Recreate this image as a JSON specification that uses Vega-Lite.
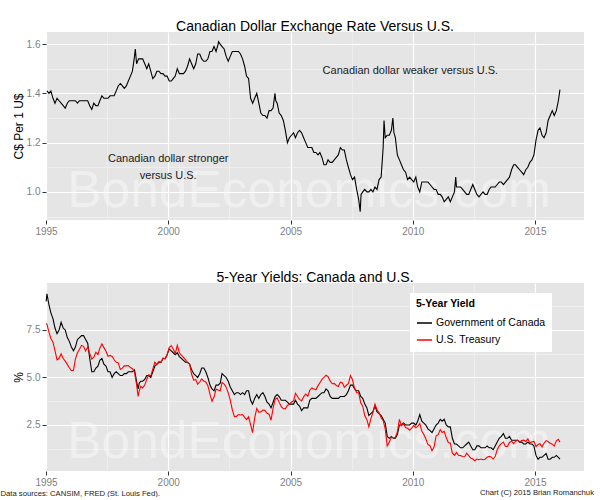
{
"$schema": "https://vega.github.io/schema/vega-lite/v6.json",
"background": "white",
"padding": {"left": 0, "top": 20, "right": 0, "bottom": 0},
"spacing": 35,
"resolve": {"legend": {"color": "independent"}},
"config": {
  "font": "Liberation Sans",
  "view": {"fill": "#E5E5E5", "stroke": null},
  "title": {"fontSize": 14, "fontWeight": "normal", "color": "#000000", "baseline": "alphabetic", "offset": -2},
  "axis": {"domain": false, "labelColor": "#7F7F7F", "labelFontSize": 10, "tickSize": 4, "titleFontSize": 12, "titleFontWeight": "normal", "titleColor": "#000000", "labelPadding": 2, "titlePadding": 1, "labelFlush": false, "labelOverlap": false}
},
"datasets": {
  "wm": [
    {"d": "2005-10-05", "v": 0.939, "label": "BondEconomics.com", "p": 1},
    {"d": "2005-10-05", "v": 0.76, "label": "BondEconomics.com", "p": 2}
  ],
  "notes": [
    {"d": "2009-11-25", "v": 1.49, "label": "Canadian dollar weaker versus U.S."},
    {"d": "2000-01-01", "v": 1.132, "label": "Canadian dollar stronger"},
    {"d": "2000-01-01", "v": 1.063, "label": "versus U.S."}
  ],
  "fx": [
    {"d":"1995-01-15","v":1.41},{"d":"1995-02-15","v":1.40},{"d":"1995-03-15","v":1.41},{"d":"1995-04-15","v":1.38},{"d":"1995-05-15","v":1.36},{"d":"1995-06-15","v":1.38},{"d":"1995-07-15","v":1.37},{"d":"1995-08-15","v":1.36},{"d":"1995-09-15","v":1.35},{"d":"1995-10-15","v":1.34},{"d":"1995-11-15","v":1.36},{"d":"1995-12-15","v":1.37},
    {"d":"1996-01-15","v":1.37},{"d":"1996-02-15","v":1.37},{"d":"1996-03-15","v":1.37},{"d":"1996-04-15","v":1.36},{"d":"1996-05-15","v":1.37},{"d":"1996-06-15","v":1.37},{"d":"1996-07-15","v":1.37},{"d":"1996-08-15","v":1.37},{"d":"1996-09-15","v":1.37},{"d":"1996-10-15","v":1.35},{"d":"1996-11-15","v":1.335},{"d":"1996-12-15","v":1.36},
    {"d":"1997-01-15","v":1.35},{"d":"1997-02-15","v":1.35},{"d":"1997-03-15","v":1.37},{"d":"1997-04-15","v":1.39},{"d":"1997-05-15","v":1.38},{"d":"1997-06-15","v":1.38},{"d":"1997-07-15","v":1.38},{"d":"1997-08-15","v":1.39},{"d":"1997-09-15","v":1.39},{"d":"1997-10-15","v":1.39},{"d":"1997-11-15","v":1.41},{"d":"1997-12-15","v":1.43},
    {"d":"1998-01-15","v":1.44},{"d":"1998-02-15","v":1.43},{"d":"1998-03-15","v":1.42},{"d":"1998-04-15","v":1.43},{"d":"1998-05-15","v":1.45},{"d":"1998-06-15","v":1.47},{"d":"1998-07-15","v":1.49},{"d":"1998-08-15","v":1.55},{"d":"1998-08-27","v":1.58},{"d":"1998-09-15","v":1.52},{"d":"1998-10-15","v":1.54},{"d":"1998-11-15","v":1.54},{"d":"1998-12-15","v":1.54},
    {"d":"1999-01-15","v":1.52},{"d":"1999-02-15","v":1.50},{"d":"1999-03-15","v":1.52},{"d":"1999-04-15","v":1.49},{"d":"1999-05-15","v":1.46},{"d":"1999-06-15","v":1.47},{"d":"1999-07-15","v":1.49},{"d":"1999-08-15","v":1.49},{"d":"1999-09-15","v":1.48},{"d":"1999-10-15","v":1.48},{"d":"1999-11-15","v":1.47},{"d":"1999-12-15","v":1.47},
    {"d":"2000-01-15","v":1.45},{"d":"2000-02-15","v":1.45},{"d":"2000-03-15","v":1.46},{"d":"2000-04-15","v":1.47},{"d":"2000-05-15","v":1.50},{"d":"2000-06-15","v":1.48},{"d":"2000-07-15","v":1.48},{"d":"2000-08-15","v":1.48},{"d":"2000-09-15","v":1.49},{"d":"2000-10-15","v":1.51},{"d":"2000-11-15","v":1.54},{"d":"2000-12-15","v":1.52},
    {"d":"2001-01-15","v":1.50},{"d":"2001-02-15","v":1.52},{"d":"2001-03-15","v":1.56},{"d":"2001-04-15","v":1.56},{"d":"2001-05-15","v":1.54},{"d":"2001-06-15","v":1.53},{"d":"2001-07-15","v":1.53},{"d":"2001-08-15","v":1.54},{"d":"2001-09-15","v":1.57},{"d":"2001-10-15","v":1.57},{"d":"2001-11-15","v":1.59},{"d":"2001-12-15","v":1.57},
    {"d":"2002-01-15","v":1.60},{"d":"2002-01-21","v":1.61},{"d":"2002-02-15","v":1.60},{"d":"2002-03-15","v":1.59},{"d":"2002-04-15","v":1.58},{"d":"2002-05-15","v":1.55},{"d":"2002-06-15","v":1.53},{"d":"2002-07-15","v":1.55},{"d":"2002-08-15","v":1.57},{"d":"2002-09-15","v":1.57},{"d":"2002-10-15","v":1.57},{"d":"2002-11-15","v":1.57},{"d":"2002-12-15","v":1.56},
    {"d":"2003-01-15","v":1.54},{"d":"2003-02-15","v":1.51},{"d":"2003-03-15","v":1.47},{"d":"2003-04-15","v":1.46},{"d":"2003-05-15","v":1.38},{"d":"2003-06-15","v":1.36},{"d":"2003-07-15","v":1.38},{"d":"2003-08-15","v":1.40},{"d":"2003-09-15","v":1.36},{"d":"2003-10-15","v":1.32},{"d":"2003-11-15","v":1.31},{"d":"2003-12-15","v":1.31},
    {"d":"2004-01-15","v":1.30},{"d":"2004-02-15","v":1.33},{"d":"2004-03-15","v":1.33},{"d":"2004-04-15","v":1.34},{"d":"2004-05-13","v":1.40},{"d":"2004-05-25","v":1.37},{"d":"2004-06-15","v":1.36},{"d":"2004-07-15","v":1.32},{"d":"2004-08-15","v":1.31},{"d":"2004-09-15","v":1.29},{"d":"2004-10-15","v":1.25},{"d":"2004-11-15","v":1.20},{"d":"2004-12-15","v":1.22},
    {"d":"2005-01-15","v":1.23},{"d":"2005-02-15","v":1.24},{"d":"2005-03-15","v":1.22},{"d":"2005-04-15","v":1.24},{"d":"2005-05-15","v":1.25},{"d":"2005-06-15","v":1.24},{"d":"2005-07-15","v":1.22},{"d":"2005-08-15","v":1.20},{"d":"2005-09-15","v":1.18},{"d":"2005-10-15","v":1.18},{"d":"2005-11-15","v":1.18},{"d":"2005-12-15","v":1.16},
    {"d":"2006-01-15","v":1.16},{"d":"2006-02-15","v":1.15},{"d":"2006-03-15","v":1.16},{"d":"2006-04-15","v":1.14},{"d":"2006-05-15","v":1.11},{"d":"2006-06-15","v":1.11},{"d":"2006-07-15","v":1.13},{"d":"2006-08-15","v":1.12},{"d":"2006-09-15","v":1.12},{"d":"2006-10-15","v":1.13},{"d":"2006-11-15","v":1.14},{"d":"2006-12-15","v":1.15},
    {"d":"2007-01-15","v":1.18},{"d":"2007-02-15","v":1.17},{"d":"2007-03-15","v":1.17},{"d":"2007-04-15","v":1.13},{"d":"2007-05-15","v":1.10},{"d":"2007-06-15","v":1.07},{"d":"2007-07-15","v":1.05},{"d":"2007-08-15","v":1.06},{"d":"2007-09-15","v":1.01},{"d":"2007-10-15","v":0.97},{"d":"2007-11-07","v":0.92},{"d":"2007-11-20","v":0.99},{"d":"2007-12-15","v":1.00},
    {"d":"2008-01-15","v":1.01},{"d":"2008-02-15","v":1.00},{"d":"2008-03-15","v":1.00},{"d":"2008-04-15","v":1.01},{"d":"2008-05-15","v":1.00},{"d":"2008-06-15","v":1.02},{"d":"2008-07-15","v":1.01},{"d":"2008-08-15","v":1.05},{"d":"2008-09-15","v":1.06},{"d":"2008-10-15","v":1.18},{"d":"2008-10-28","v":1.29},{"d":"2008-11-15","v":1.22},{"d":"2008-12-15","v":1.23},
    {"d":"2009-01-15","v":1.23},{"d":"2009-02-15","v":1.25},{"d":"2009-03-09","v":1.30},{"d":"2009-03-25","v":1.24},{"d":"2009-04-15","v":1.22},{"d":"2009-05-15","v":1.15},{"d":"2009-06-15","v":1.13},{"d":"2009-07-15","v":1.11},{"d":"2009-08-15","v":1.09},{"d":"2009-09-15","v":1.08},{"d":"2009-10-15","v":1.05},{"d":"2009-11-15","v":1.06},{"d":"2009-12-15","v":1.05},
    {"d":"2010-01-15","v":1.04},{"d":"2010-02-15","v":1.06},{"d":"2010-03-15","v":1.02},{"d":"2010-04-15","v":1.00},{"d":"2010-05-15","v":1.04},{"d":"2010-06-15","v":1.04},{"d":"2010-07-15","v":1.04},{"d":"2010-08-15","v":1.04},{"d":"2010-09-15","v":1.03},{"d":"2010-10-15","v":1.02},{"d":"2010-11-15","v":1.01},{"d":"2010-12-15","v":1.01},
    {"d":"2011-01-15","v":0.99},{"d":"2011-02-15","v":0.99},{"d":"2011-03-15","v":0.98},{"d":"2011-04-15","v":0.96},{"d":"2011-05-15","v":0.97},{"d":"2011-06-15","v":0.98},{"d":"2011-07-15","v":0.96},{"d":"2011-08-15","v":0.98},{"d":"2011-09-15","v":1.00},{"d":"2011-10-04","v":1.06},{"d":"2011-10-15","v":1.02},{"d":"2011-11-15","v":1.02},{"d":"2011-12-15","v":1.02},
    {"d":"2012-01-15","v":1.01},{"d":"2012-02-15","v":1.00},{"d":"2012-03-15","v":0.99},{"d":"2012-04-15","v":0.99},{"d":"2012-05-15","v":1.01},{"d":"2012-06-15","v":1.03},{"d":"2012-07-15","v":1.01},{"d":"2012-08-15","v":0.99},{"d":"2012-09-15","v":0.98},{"d":"2012-10-15","v":0.99},{"d":"2012-11-15","v":1.00},{"d":"2012-12-15","v":0.99},
    {"d":"2013-01-15","v":0.99},{"d":"2013-02-15","v":1.01},{"d":"2013-03-15","v":1.02},{"d":"2013-04-15","v":1.02},{"d":"2013-05-15","v":1.02},{"d":"2013-06-15","v":1.03},{"d":"2013-07-15","v":1.04},{"d":"2013-08-15","v":1.04},{"d":"2013-09-15","v":1.03},{"d":"2013-10-15","v":1.04},{"d":"2013-11-15","v":1.05},{"d":"2013-12-15","v":1.06},
    {"d":"2014-01-15","v":1.09},{"d":"2014-02-15","v":1.11},{"d":"2014-03-15","v":1.11},{"d":"2014-04-15","v":1.10},{"d":"2014-05-15","v":1.09},{"d":"2014-06-15","v":1.08},{"d":"2014-07-15","v":1.07},{"d":"2014-08-15","v":1.09},{"d":"2014-09-15","v":1.10},{"d":"2014-10-15","v":1.12},{"d":"2014-11-15","v":1.13},{"d":"2014-12-15","v":1.15},
    {"d":"2015-01-15","v":1.21},{"d":"2015-02-15","v":1.25},{"d":"2015-03-15","v":1.26},{"d":"2015-04-15","v":1.23},{"d":"2015-05-15","v":1.22},{"d":"2015-06-15","v":1.24},{"d":"2015-07-15","v":1.29},{"d":"2015-08-15","v":1.31},{"d":"2015-09-15","v":1.33},{"d":"2015-10-15","v":1.31},{"d":"2015-11-15","v":1.33},{"d":"2015-12-15","v":1.37},{"d":"2016-01-08","v":1.415}
  ],
  "yields": [
    {"d":"1995-01-03","can":9.0,"us":7.85},{"d":"1995-01-15","can":9.4,"us":7.8},{"d":"1995-02-15","can":8.8,"us":7.37},{"d":"1995-03-15","can":8.4,"us":7.05},{"d":"1995-04-15","can":8.1,"us":6.86},{"d":"1995-05-15","can":7.6,"us":6.41},{"d":"1995-06-15","can":7.3,"us":5.93},{"d":"1995-07-15","can":7.5,"us":6.01},{"d":"1995-08-15","can":7.9,"us":6.24},{"d":"1995-09-15","can":7.6,"us":6.00},{"d":"1995-10-15","can":7.5,"us":5.86},{"d":"1995-11-15","can":7.1,"us":5.69},{"d":"1995-12-15","can":6.9,"us":5.51},
    {"d":"1996-01-15","can":6.6,"us":5.36},{"d":"1996-02-15","can":6.4,"us":5.38},{"d":"1996-03-15","can":6.6,"us":5.97},{"d":"1996-04-15","can":7.0,"us":6.30},{"d":"1996-05-15","can":7.1,"us":6.48},{"d":"1996-06-15","can":7.2,"us":6.69},{"d":"1996-07-15","can":7.2,"us":6.64},{"d":"1996-08-15","can":7.0,"us":6.39},{"d":"1996-09-15","can":6.8,"us":6.60},{"d":"1996-10-15","can":6.0,"us":6.27},{"d":"1996-11-15","can":5.3,"us":5.97},{"d":"1996-12-15","can":5.3,"us":6.07},
    {"d":"1997-01-15","can":5.5,"us":6.33},{"d":"1997-02-15","can":5.6,"us":6.20},{"d":"1997-03-15","can":5.9,"us":6.54},{"d":"1997-04-15","can":6.0,"us":6.76},{"d":"1997-05-15","can":5.7,"us":6.57},{"d":"1997-06-15","can":5.6,"us":6.38},{"d":"1997-07-15","can":5.3,"us":6.12},{"d":"1997-08-15","can":5.3,"us":6.16},{"d":"1997-09-15","can":5.0,"us":6.11},{"d":"1997-10-15","can":5.2,"us":5.93},{"d":"1997-11-15","can":5.3,"us":5.80},{"d":"1997-12-15","can":5.2,"us":5.77},
    {"d":"1998-01-15","can":5.1,"us":5.42},{"d":"1998-02-15","can":5.1,"us":5.49},{"d":"1998-03-15","can":5.2,"us":5.61},{"d":"1998-04-15","can":5.2,"us":5.61},{"d":"1998-05-15","can":5.3,"us":5.63},{"d":"1998-06-15","can":5.3,"us":5.52},{"d":"1998-07-15","can":5.3,"us":5.46},{"d":"1998-08-15","can":5.4,"us":5.27},{"d":"1998-09-15","can":4.8,"us":4.62},{"d":"1998-10-08","can":4.4,"us":4.0},{"d":"1998-10-25","can":4.7,"us":4.3},{"d":"1998-11-15","can":4.8,"us":4.54},{"d":"1998-12-15","can":4.8,"us":4.45},
    {"d":"1999-01-15","can":4.9,"us":4.60},{"d":"1999-02-15","can":5.1,"us":4.91},{"d":"1999-03-15","can":5.1,"us":5.14},{"d":"1999-04-15","can":5.0,"us":5.08},{"d":"1999-05-15","can":5.3,"us":5.44},{"d":"1999-06-15","can":5.6,"us":5.81},{"d":"1999-07-15","can":5.7,"us":5.68},{"d":"1999-08-15","can":5.8,"us":5.84},{"d":"1999-09-15","can":5.8,"us":5.80},{"d":"1999-10-15","can":6.0,"us":6.03},{"d":"1999-11-15","can":6.0,"us":5.97},{"d":"1999-12-15","can":6.2,"us":6.19},
    {"d":"2000-01-15","can":6.5,"us":6.58},{"d":"2000-02-15","can":6.4,"us":6.68},{"d":"2000-03-15","can":6.3,"us":6.50},{"d":"2000-04-15","can":6.2,"us":6.26},{"d":"2000-05-15","can":6.3,"us":6.69},{"d":"2000-06-15","can":6.1,"us":6.30},{"d":"2000-07-15","can":6.0,"us":6.18},{"d":"2000-08-15","can":5.9,"us":6.06},{"d":"2000-09-15","can":5.8,"us":5.93},{"d":"2000-10-15","can":5.8,"us":5.78},{"d":"2000-11-15","can":5.7,"us":5.70},{"d":"2000-12-15","can":5.4,"us":5.17},
    {"d":"2001-01-15","can":5.2,"us":4.86},{"d":"2001-02-15","can":5.1,"us":4.89},{"d":"2001-03-15","can":5.0,"us":4.64},{"d":"2001-04-15","can":5.2,"us":4.76},{"d":"2001-05-15","can":5.5,"us":4.93},{"d":"2001-06-15","can":5.5,"us":4.81},{"d":"2001-07-15","can":5.3,"us":4.76},{"d":"2001-08-15","can":5.0,"us":4.57},{"d":"2001-09-15","can":4.6,"us":4.12},{"d":"2001-10-15","can":4.4,"us":3.75},{"d":"2001-11-15","can":4.3,"us":3.97},{"d":"2001-12-15","can":4.6,"us":4.39},
    {"d":"2002-01-15","can":4.6,"us":4.34},{"d":"2002-02-15","can":4.7,"us":4.30},{"d":"2002-03-15","can":5.2,"us":4.74},{"d":"2002-04-15","can":5.1,"us":4.65},{"d":"2002-05-15","can":5.0,"us":4.49},{"d":"2002-06-15","can":4.8,"us":4.19},{"d":"2002-07-15","can":4.5,"us":3.81},{"d":"2002-08-15","can":4.3,"us":3.29},{"d":"2002-09-15","can":4.1,"us":2.94},{"d":"2002-10-15","can":4.2,"us":2.95},{"d":"2002-11-15","can":4.2,"us":3.05},{"d":"2002-12-15","can":4.1,"us":3.03},
    {"d":"2003-01-15","can":4.2,"us":3.05},{"d":"2003-02-15","can":4.1,"us":2.90},{"d":"2003-03-15","can":4.3,"us":2.78},{"d":"2003-04-15","can":4.3,"us":2.93},{"d":"2003-05-15","can":3.8,"us":2.52},{"d":"2003-06-13","can":3.6,"us":2.1},{"d":"2003-07-15","can":3.9,"us":2.87},{"d":"2003-08-15","can":4.1,"us":3.37},{"d":"2003-09-15","can":3.9,"us":3.18},{"d":"2003-10-15","can":4.1,"us":3.19},{"d":"2003-11-15","can":4.2,"us":3.29},{"d":"2003-12-15","can":4.0,"us":3.27},
    {"d":"2004-01-15","can":3.7,"us":3.12},{"d":"2004-02-15","can":3.6,"us":3.07},{"d":"2004-03-15","can":3.4,"us":2.75},{"d":"2004-04-15","can":3.7,"us":3.39},{"d":"2004-05-15","can":4.0,"us":3.85},{"d":"2004-06-15","can":4.1,"us":3.93},{"d":"2004-07-15","can":4.0,"us":3.69},{"d":"2004-08-15","can":3.8,"us":3.47},{"d":"2004-09-15","can":3.8,"us":3.36},{"d":"2004-10-15","can":3.8,"us":3.35},{"d":"2004-11-15","can":3.7,"us":3.53},{"d":"2004-12-15","can":3.6,"us":3.60},
    {"d":"2005-01-15","can":3.6,"us":3.71},{"d":"2005-02-15","can":3.6,"us":3.77},{"d":"2005-03-15","can":3.8,"us":4.17},{"d":"2005-04-15","can":3.6,"us":4.00},{"d":"2005-05-15","can":3.5,"us":3.85},{"d":"2005-06-15","can":3.25,"us":3.77},{"d":"2005-07-15","can":3.4,"us":3.98},{"d":"2005-08-15","can":3.4,"us":4.12},{"d":"2005-09-15","can":3.4,"us":4.01},{"d":"2005-10-15","can":3.8,"us":4.33},{"d":"2005-11-15","can":3.9,"us":4.45},{"d":"2005-12-15","can":3.9,"us":4.39},
    {"d":"2006-01-15","can":3.9,"us":4.35},{"d":"2006-02-15","can":4.0,"us":4.57},{"d":"2006-03-15","can":4.1,"us":4.72},{"d":"2006-04-15","can":4.2,"us":4.90},{"d":"2006-05-15","can":4.2,"us":5.00},{"d":"2006-06-15","can":4.4,"us":5.12},{"d":"2006-07-15","can":4.3,"us":5.04},{"d":"2006-08-15","can":4.0,"us":4.82},{"d":"2006-09-15","can":3.9,"us":4.67},{"d":"2006-10-15","can":3.9,"us":4.69},{"d":"2006-11-15","can":3.9,"us":4.58},{"d":"2006-12-15","can":3.9,"us":4.53},
    {"d":"2007-01-15","can":4.0,"us":4.75},{"d":"2007-02-15","can":4.0,"us":4.71},{"d":"2007-03-15","can":4.0,"us":4.48},{"d":"2007-04-15","can":4.1,"us":4.59},{"d":"2007-05-15","can":4.3,"us":4.67},{"d":"2007-06-15","can":4.6,"us":5.1},{"d":"2007-07-15","can":4.6,"us":4.88},{"d":"2007-08-15","can":4.4,"us":4.43},{"d":"2007-09-15","can":4.3,"us":4.20},{"d":"2007-10-15","can":4.3,"us":4.20},{"d":"2007-11-15","can":4.0,"us":3.67},{"d":"2007-12-15","can":3.9,"us":3.49},
    {"d":"2008-01-15","can":3.6,"us":2.98},{"d":"2008-02-15","can":3.4,"us":2.78},{"d":"2008-03-15","can":3.0,"us":2.4},{"d":"2008-04-15","can":3.1,"us":2.84},{"d":"2008-05-15","can":3.2,"us":3.15},{"d":"2008-06-15","can":3.5,"us":3.6},{"d":"2008-07-15","can":3.2,"us":3.30},{"d":"2008-08-15","can":3.1,"us":3.14},{"d":"2008-09-15","can":3.0,"us":2.88},{"d":"2008-10-15","can":2.8,"us":2.73},{"d":"2008-11-15","can":2.6,"us":2.29},{"d":"2008-12-15","can":1.9,"us":1.4},
    {"d":"2009-01-15","can":1.8,"us":1.60},{"d":"2009-02-15","can":1.9,"us":1.87},{"d":"2009-03-15","can":1.8,"us":1.82},{"d":"2009-04-15","can":1.8,"us":1.86},{"d":"2009-05-15","can":2.0,"us":2.13},{"d":"2009-06-15","can":2.5,"us":2.8},{"d":"2009-07-15","can":2.5,"us":2.46},{"d":"2009-08-15","can":2.6,"us":2.57},{"d":"2009-09-15","can":2.5,"us":2.37},{"d":"2009-10-15","can":2.5,"us":2.33},{"d":"2009-11-15","can":2.5,"us":2.23},{"d":"2009-12-15","can":2.6,"us":2.34},
    {"d":"2010-01-15","can":2.6,"us":2.48},{"d":"2010-02-15","can":2.5,"us":2.36},{"d":"2010-03-15","can":2.7,"us":2.43},{"d":"2010-04-15","can":3.05,"us":2.58},{"d":"2010-05-15","can":2.7,"us":2.18},{"d":"2010-06-15","can":2.6,"us":2.00},{"d":"2010-07-15","can":2.5,"us":1.76},{"d":"2010-08-15","can":2.3,"us":1.47},{"d":"2010-09-15","can":2.2,"us":1.41},{"d":"2010-10-15","can":2.1,"us":1.15},{"d":"2010-11-15","can":2.3,"us":1.35},{"d":"2010-12-15","can":2.5,"us":1.93},
    {"d":"2011-01-15","can":2.6,"us":1.99},{"d":"2011-02-15","can":2.8,"us":2.26},{"d":"2011-03-15","can":2.7,"us":2.11},{"d":"2011-04-15","can":2.8,"us":2.17},{"d":"2011-05-15","can":2.5,"us":1.84},{"d":"2011-06-15","can":2.4,"us":1.58},{"d":"2011-07-15","can":2.4,"us":1.54},{"d":"2011-08-15","can":1.8,"us":1.02},{"d":"2011-09-15","can":1.5,"us":0.90},{"d":"2011-10-15","can":1.5,"us":1.06},{"d":"2011-11-15","can":1.4,"us":0.91},{"d":"2011-12-15","can":1.3,"us":0.89},
    {"d":"2012-01-15","can":1.3,"us":0.84},{"d":"2012-02-15","can":1.4,"us":0.83},{"d":"2012-03-15","can":1.5,"us":1.02},{"d":"2012-04-15","can":1.6,"us":0.89},{"d":"2012-05-15","can":1.4,"us":0.76},{"d":"2012-06-15","can":1.2,"us":0.71},{"d":"2012-07-15","can":1.2,"us":0.62},{"d":"2012-08-15","can":1.4,"us":0.71},{"d":"2012-09-15","can":1.4,"us":0.67},{"d":"2012-10-15","can":1.3,"us":0.71},{"d":"2012-11-15","can":1.3,"us":0.67},{"d":"2012-12-15","can":1.3,"us":0.70},
    {"d":"2013-01-15","can":1.4,"us":0.81},{"d":"2013-02-15","can":1.3,"us":0.85},{"d":"2013-03-15","can":1.3,"us":0.82},{"d":"2013-04-15","can":1.2,"us":0.71},{"d":"2013-05-15","can":1.4,"us":0.84},{"d":"2013-06-15","can":1.6,"us":1.20},{"d":"2013-07-15","can":1.8,"us":1.40},{"d":"2013-08-15","can":1.9,"us":1.52},{"d":"2013-09-15","can":2.05,"us":1.60},{"d":"2013-10-15","can":1.8,"us":1.37},{"d":"2013-11-15","can":1.8,"us":1.37},{"d":"2013-12-15","can":1.9,"us":1.58},
    {"d":"2014-01-15","can":1.7,"us":1.65},{"d":"2014-02-15","can":1.7,"us":1.52},{"d":"2014-03-15","can":1.7,"us":1.64},{"d":"2014-04-15","can":1.7,"us":1.70},{"d":"2014-05-15","can":1.6,"us":1.59},{"d":"2014-06-15","can":1.6,"us":1.68},{"d":"2014-07-15","can":1.5,"us":1.70},{"d":"2014-08-15","can":1.5,"us":1.63},{"d":"2014-09-15","can":1.6,"us":1.77},{"d":"2014-10-15","can":1.5,"us":1.55},{"d":"2014-11-15","can":1.5,"us":1.62},{"d":"2014-12-15","can":1.4,"us":1.64},
    {"d":"2015-01-15","can":0.9,"us":1.37},{"d":"2015-02-15","can":0.7,"us":1.47},{"d":"2015-03-15","can":0.8,"us":1.52},{"d":"2015-04-15","can":0.8,"us":1.35},{"d":"2015-05-15","can":0.9,"us":1.54},{"d":"2015-06-15","can":1.0,"us":1.68},{"d":"2015-07-15","can":0.7,"us":1.63},{"d":"2015-08-15","can":0.7,"us":1.54},{"d":"2015-09-15","can":0.8,"us":1.49},{"d":"2015-10-15","can":0.8,"us":1.39},{"d":"2015-11-15","can":0.9,"us":1.67},{"d":"2015-12-15","can":0.8,"us":1.75},{"d":"2016-01-08","can":0.7,"us":1.6}
  ]
},
"vconcat": [
  {
    "width": 538, "height": 188,
    "title": {"text": "Canadian Dollar Exchange Rate Versus U.S.", "offset": -2},
    "encoding": {
      "x": {"field": "d", "type": "temporal",
        "scale": {"type": "utc", "domain": [{"year": 1995, "month": 1, "date": 1, "utc": true}, {"year": 2017, "month": 1, "date": 1, "utc": true}]},
        "axis": {"title": null,
          "values": [{"year": 1995, "month": 1, "date": 1, "utc": true}, {"year": 1997, "month": 7, "date": 2, "utc": true}, {"year": 2000, "month": 1, "date": 1, "utc": true}, {"year": 2002, "month": 7, "date": 2, "utc": true}, {"year": 2005, "month": 1, "date": 1, "utc": true}, {"year": 2007, "month": 7, "date": 2, "utc": true}, {"year": 2010, "month": 1, "date": 1, "utc": true}, {"year": 2012, "month": 7, "date": 2, "utc": true}, {"year": 2015, "month": 1, "date": 1, "utc": true}],
          "labelExpr": "utcmonth(datum.value) == 0 ? utcFormat(datum.value, '%Y') : ''",
          "gridColor": {"condition": {"test": "utcmonth(datum.value) == 0", "value": "#FFFFFF"}, "value": "#F2F2F2"},
          "gridWidth": {"condition": {"test": "utcmonth(datum.value) == 0", "value": 1.2}, "value": 0.7},
          "tickColor": {"condition": {"test": "utcmonth(datum.value) == 0", "value": "#333333"}, "value": "rgba(0,0,0,0)"}
        }
      },
      "y": {"field": "v", "type": "quantitative",
        "scale": {"domain": [0.886, 1.649], "nice": false, "zero": false},
        "axis": {"title": "C$ Per 1 U$",
          "values": [0.9, 1.0, 1.1, 1.2, 1.3, 1.4, 1.5, 1.6],
          "labelExpr": "abs(datum.value * 5 - round(datum.value * 5)) < 0.01 ? format(datum.value, '.1f') : ''",
          "gridColor": {"condition": {"test": "abs(datum.value * 5 - round(datum.value * 5)) < 0.01", "value": "#FFFFFF"}, "value": "#F2F2F2"},
          "gridWidth": {"condition": {"test": "abs(datum.value * 5 - round(datum.value * 5)) < 0.01", "value": 1.2}, "value": 0.7},
          "tickColor": {"condition": {"test": "abs(datum.value * 5 - round(datum.value * 5)) < 0.01", "value": "#333333"}, "value": "rgba(0,0,0,0)"}
        }
      }
    },
    "layer": [
      {"data": {"name": "wm"}, "transform": [{"filter": "datum.p == 1"}],
       "mark": {"type": "text", "fontSize": 51.5, "color": "#FFFFFF", "opacity": 0.4, "baseline": "alphabetic", "align": "center"},
       "encoding": {"text": {"field": "label"}}},
      {"data": {"name": "fx"}, "mark": {"type": "line", "color": "#000000", "strokeWidth": 1.1}, "encoding": {}},
      {"data": {"name": "notes"}, "mark": {"type": "text", "fontSize": 11, "color": "#1a1a1a"}, "encoding": {"text": {"field": "label"}}}
    ]
  },
  {
    "width": 538, "height": 188,
    "title": {"text": "5-Year Yields: Canada and U.S.", "offset": -2},
    "encoding": {
      "x": {"field": "d", "type": "temporal",
        "scale": {"type": "utc", "domain": [{"year": 1995, "month": 1, "date": 1, "utc": true}, {"year": 2017, "month": 1, "date": 1, "utc": true}]},
        "axis": {"title": "Data sources: CANSIM, FRED (St. Louis Fed).",
          "titleFontSize": 7.7, "titleColor": "#1a1a1a", "titleAnchor": "start", "titleAlign": "left", "titleX": -46, "titleY": 24, "titleBaseline": "alphabetic",
          "values": [{"year": 1995, "month": 1, "date": 1, "utc": true}, {"year": 1997, "month": 7, "date": 2, "utc": true}, {"year": 2000, "month": 1, "date": 1, "utc": true}, {"year": 2002, "month": 7, "date": 2, "utc": true}, {"year": 2005, "month": 1, "date": 1, "utc": true}, {"year": 2007, "month": 7, "date": 2, "utc": true}, {"year": 2010, "month": 1, "date": 1, "utc": true}, {"year": 2012, "month": 7, "date": 2, "utc": true}, {"year": 2015, "month": 1, "date": 1, "utc": true}],
          "labelExpr": "utcmonth(datum.value) == 0 ? utcFormat(datum.value, '%Y') : ''",
          "gridColor": {"condition": {"test": "utcmonth(datum.value) == 0", "value": "#FFFFFF"}, "value": "#F2F2F2"},
          "gridWidth": {"condition": {"test": "utcmonth(datum.value) == 0", "value": 1.2}, "value": 0.7},
          "tickColor": {"condition": {"test": "utcmonth(datum.value) == 0", "value": "#333333"}, "value": "rgba(0,0,0,0)"}
        }
      },
      "y": {"field": "v", "type": "quantitative",
        "scale": {"domain": [0.08, 9.97], "nice": false, "zero": false},
        "axis": {"title": "%",
          "values": [1.25, 2.5, 3.75, 5, 6.25, 7.5, 8.75],
          "labelExpr": "abs(datum.value / 2.5 - round(datum.value / 2.5)) < 0.01 ? format(datum.value, '.1f') : ''",
          "gridColor": {"condition": {"test": "abs(datum.value / 2.5 - round(datum.value / 2.5)) < 0.01", "value": "#FFFFFF"}, "value": "#F2F2F2"},
          "gridWidth": {"condition": {"test": "abs(datum.value / 2.5 - round(datum.value / 2.5)) < 0.01", "value": 1.2}, "value": 0.7},
          "tickColor": {"condition": {"test": "abs(datum.value / 2.5 - round(datum.value / 2.5)) < 0.01", "value": "#333333"}, "value": "rgba(0,0,0,0)"}
        }
      }
    },
    "layer": [
      {"data": {"name": "wm"}, "transform": [{"filter": "datum.p == 2"}],
       "mark": {"type": "text", "fontSize": 51.5, "color": "#FFFFFF", "opacity": 0.4, "baseline": "alphabetic", "align": "center"},
       "encoding": {"text": {"field": "label"}}},
      {"data": {"name": "yields"}, "transform": [{"fold": ["can", "us"], "as": ["series", "v"]}],
       "mark": {"type": "line", "strokeWidth": 1.1},
       "encoding": {"color": {"field": "series", "type": "nominal",
         "scale": {"domain": ["can", "us"], "range": ["#000000", "#FF0000"]},
         "legend": {"title": "5-Year Yield", "orient": "none", "legendX": 364, "legendY": 10,
           "labelExpr": "datum.label == 'can' ? 'Government of Canada' : 'U.S. Treasury'",
           "fillColor": "#FFFFFF", "padding": 6, "symbolType": "stroke", "symbolStrokeWidth": 1.5, "symbolSize": 225,
           "titleFontSize": 10.5, "labelFontSize": 10.5, "titleFontWeight": "bold", "titleColor": "#000000", "labelColor": "#000000",
           "rowPadding": 3, "titlePadding": 5, "labelOffset": 3}}}}
    ]
  }
],
"title": {"text": "Chart (C) 2015 Brian Romanchuk", "orient": "bottom", "anchor": "end", "fontSize": 7.7, "color": "#1a1a1a", "fontWeight": "normal", "baseline": "alphabetic", "offset": -2, "dx": 10}
}
